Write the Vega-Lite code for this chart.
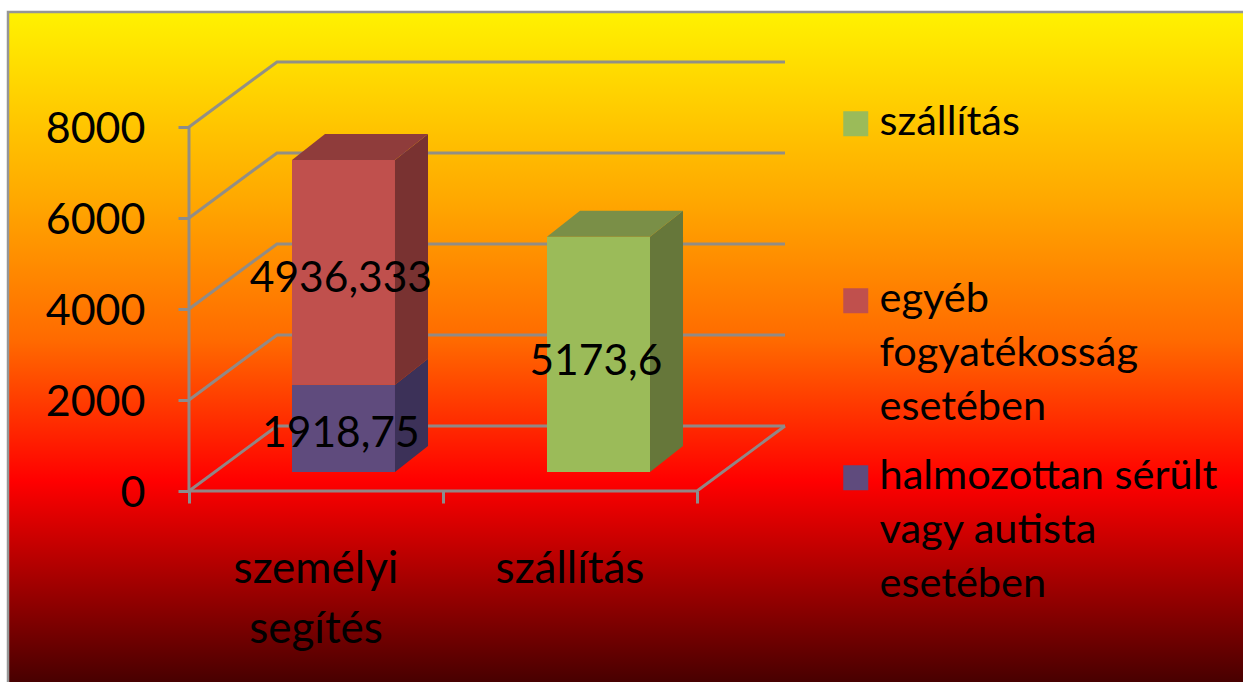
{
"$schema":"https://vega.github.io/schema/vega-lite/v6.json",
"width":1235,"height":670,"autosize":"none","padding":{"left":8,"top":12,"right":0,"bottom":0},
"background":"white",
"view":{"stroke":null,"fill":{"gradient":"linear","x1":0,"y1":0,"x2":0,"y2":1,"stops":[{"offset":0,"color":"#fff200"},{"offset":0.28,"color":"#ffa800"},{"offset":0.49,"color":"#ff6a00"},{"offset":0.7,"color":"#ff0000"},{"offset":1,"color":"#480000"}]}},
"config":{"font":"Lato","legend":{"labelFont":"Lato"},"axis":{"labelFont":"Lato"}},
"datasets":{
"racs":[
{"v":"0","x":0,"y":0},{"v":"0","x":0.3465,"y":1429},{"v":"0","x":2.3465,"y":1429},
{"v":"2000","x":0,"y":2000},{"v":"2000","x":0.3465,"y":3429},{"v":"2000","x":2.3465,"y":3429},
{"v":"4000","x":0,"y":4000},{"v":"4000","x":0.3465,"y":5429},{"v":"4000","x":2.3465,"y":5429},
{"v":"6000","x":0,"y":6000},{"v":"6000","x":0.3465,"y":7429},{"v":"6000","x":2.3465,"y":7429},
{"v":"8000","x":0,"y":8000},{"v":"8000","x":0.3465,"y":9429},{"v":"8000","x":2.3465,"y":9429},
{"v":"tengely","x":0,"y":8000},{"v":"tengely","x":0,"y":0},{"v":"tengely","x":2,"y":0},{"v":"tengely","x":2.3465,"y":1429}
],
"keret":[
{"x":-0.7126,"y":-4198},{"x":-0.7126,"y":10527},{"x":4.1496,"y":10527}
],
"lapok":[
{"sorozat":"halmozottan sérült vagy autista esetében","lap":"eleje","x":0.4055,"y":2336,"y2":417},
{"sorozat":"halmozottan sérült vagy autista esetében","lap":"eleje","x":0.811,"y":2336,"y2":417},
{"sorozat":"egyéb fogyatékosság esetében","lap":"eleje","x":0.4055,"y":7272,"y2":2336},
{"sorozat":"egyéb fogyatékosság esetében","lap":"eleje","x":0.811,"y":7272,"y2":2336},
{"sorozat":"szállítás","lap":"eleje","x":1.4094,"y":5590,"y2":417},
{"sorozat":"szállítás","lap":"eleje","x":1.815,"y":5590,"y2":417},
{"sorozat":"halmozottan sérült vagy autista esetében","lap":"oldal","x":0.811,"y":2336,"y2":417},
{"sorozat":"halmozottan sérült vagy autista esetében","lap":"oldal","x":0.941,"y":2907,"y2":988},
{"sorozat":"egyéb fogyatékosság esetében","lap":"oldal","x":0.811,"y":7272,"y2":2336},
{"sorozat":"egyéb fogyatékosság esetében","lap":"oldal","x":0.941,"y":7843,"y2":2907},
{"sorozat":"szállítás","lap":"oldal","x":1.815,"y":5590,"y2":417},
{"sorozat":"szállítás","lap":"oldal","x":1.945,"y":6161,"y2":988},
{"sorozat":"egyéb fogyatékosság esetében","lap":"teteje","x":0.4055,"y":7272,"y2":7272},
{"sorozat":"egyéb fogyatékosság esetében","lap":"teteje","x":0.5355,"y":7843,"y2":7272},
{"sorozat":"egyéb fogyatékosság esetében","lap":"teteje","x":0.811,"y":7843,"y2":7272},
{"sorozat":"egyéb fogyatékosság esetében","lap":"teteje","x":0.941,"y":7843,"y2":7843},
{"sorozat":"szállítás","lap":"teteje","x":1.4094,"y":5590,"y2":5590},
{"sorozat":"szállítás","lap":"teteje","x":1.5394,"y":6161,"y2":5590},
{"sorozat":"szállítás","lap":"teteje","x":1.815,"y":6161,"y2":5590},
{"sorozat":"szállítás","lap":"teteje","x":1.945,"y":6161,"y2":6161}
],
"ertekek":[
{"felirat":"4936,333","x":0.598,"y":4659},
{"felirat":"1918,75","x":0.598,"y":1253},
{"felirat":"5173,6","x":1.602,"y":2835}
],
"kategoriak":[
{"felirat":"személyi\nsegítés","x":0.5,"y":-2022},
{"felirat":"szállítás","x":1.5,"y":-2022}
]
},
"encoding":{
  "x":{"field":"x","type":"quantitative","sort":null,"scale":{"domain":[-0.7126,4.1496],"nice":false,"zero":false},
   "axis":{"orient":"bottom","offset":-191,"values":[0,1,2],"labels":false,"title":null,"grid":false,"domain":false,"tickSize":12,"tickWidth":3,"tickColor":"#8c8c8c"}},
  "y":{"field":"y","type":"quantitative","stack":null,"scale":{"domain":[-4198,10527],"nice":false,"zero":false},
   "axis":{"orient":"left","offset":-181,"values":[0,2000,4000,6000,8000],"format":"d","title":null,"grid":false,"domain":false,"tickSize":11,"tickWidth":3,"tickColor":"#8c8c8c","labelFontSize":43,"labelColor":"#000000","labelPadding":33,"labelOffset":3}}
},
"layer":[
{"data":{"name":"keret"},"mark":{"type":"line","stroke":"#969696","strokeWidth":2.5,"clip":false},"encoding":{}},
{"data":{"name":"racs"},"mark":{"type":"line","stroke":"#8c8c8c","strokeWidth":3,"opacity":0.95},
 "encoding":{"detail":{"field":"v"}}},
{"data":{"name":"lapok"},"transform":[{"filter":"datum.lap==='eleje'"}],"mark":{"type":"area"},
 "encoding":{
  "y2":{"field":"y2"},
  "color":{"field":"sorozat","type":"nominal","scale":{"domain":["szállítás","egyéb fogyatékosság esetében","halmozottan sérült vagy autista esetében"],"range":["#9bbb59","#c0504d","#5f4b7d"]},
   "legend":{"title":null,"orient":"none","legendX":827,"legendY":91,"symbolType":"square","symbolSize":625,"symbolStrokeWidth":0,"symbolOpacity":1,"labelFontSize":41.5,"labelColor":"#000000","labelLimit":400,"labelOffset":3,"rowPadding":26,"gridAlign":"all","labelBaseline":"top",
    "labelExpr":"datum.label==='szállítás'?'szállítás':datum.label==='egyéb fogyatékosság esetében'?['egyéb','fogyatékosság','esetében']:['halmozottan sérült','vagy autista','esetében']",
    "encode":{"labels":{"update":{"lineHeight":{"value":54},"dy":{"value":-22}}}}}}}},
{"data":{"name":"lapok"},"transform":[{"filter":"datum.lap==='oldal'"}],"mark":{"type":"area"},
 "encoding":{
  "y2":{"field":"y2"},
  "color":{"field":"sorozat","type":"nominal","legend":null,"scale":{"domain":["szállítás","egyéb fogyatékosság esetében","halmozottan sérült vagy autista esetében"],"range":["#66773a","#793231","#3c3158"]}}}},
{"data":{"name":"lapok"},"transform":[{"filter":"datum.lap==='teteje'"}],"mark":{"type":"area"},
 "encoding":{
  "y2":{"field":"y2"},
  "color":{"field":"sorozat","type":"nominal","legend":null,"scale":{"domain":["szállítás","egyéb fogyatékosság esetében"],"range":["#7a8f47","#8f3c3b"]}}}},
{"data":{"name":"ertekek"},"mark":{"type":"text","fontSize":42.5,"color":"#000000","font":"Lato"},
 "encoding":{"text":{"field":"felirat","type":"nominal"}}},
{"data":{"name":"kategoriak"},"mark":{"type":"text","fontSize":44,"color":"#000000","font":"Lato","lineBreak":"\n","lineHeight":60,"baseline":"alphabetic"},
 "encoding":{"text":{"field":"felirat","type":"nominal"}}}
],
"resolve":{"scale":{"color":"independent"}}
}
